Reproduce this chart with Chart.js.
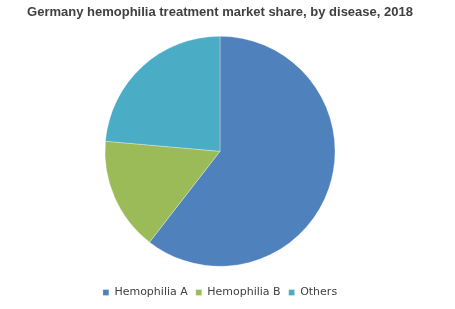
<!DOCTYPE html>
<html>
<head>
<meta charset="utf-8">
<script src="https://cdn.jsdelivr.net/npm/chart.js@4"></script>
<style>
    html, body { margin: 0; padding: 0; background: #fff; }
    #wrap { width: 455px; height: 309px; }
</style>
</head>
<body>
<div id="wrap"><canvas id="pieChart" width="455" height="309"></canvas></div>
<script>
// parts de marché par maladie (en %)
const diseases = ['Hemophilia A', 'Hemophilia B', 'Others'];
const shares = [60.5, 15.9, 23.6];
const sliceColors = ['#4F81BD', '#9BBB59', '#4BACC6'];

const chart = new Chart(document.getElementById('pieChart'), {
    type: 'pie',
    data: {
        labels: diseases,
        datasets: [{
            data: shares,
            backgroundColor: sliceColors,
            borderColor: 'rgba(255,255,255,0.6)',
            borderWidth: 0.5
        }]
    },
    options: {
        responsive: false,
        animation: false,
        radius: 115,
        layout: { padding: { left: 0, right: 15, top: 0, bottom: 1 } },
        plugins: {
            title: {
                display: true,
                text: 'Germany hemophilia treatment market share, by disease, 2018',
                color: '#404040',
                font: { family: 'Liberation Sans', size: 13, weight: 'bold' },
                padding: { top: 5, bottom: 3 }
            },
            legend: {
                position: 'bottom',
                labels: {
                    color: '#404040',
                    font: { family: 'DejaVu Sans', size: 11 },
                    boxWidth: 6,
                    boxHeight: 6,
                    padding: 8
                }
            },
            tooltip: { enabled: false }
        }
    }
});
</script>
</body>
</html>
